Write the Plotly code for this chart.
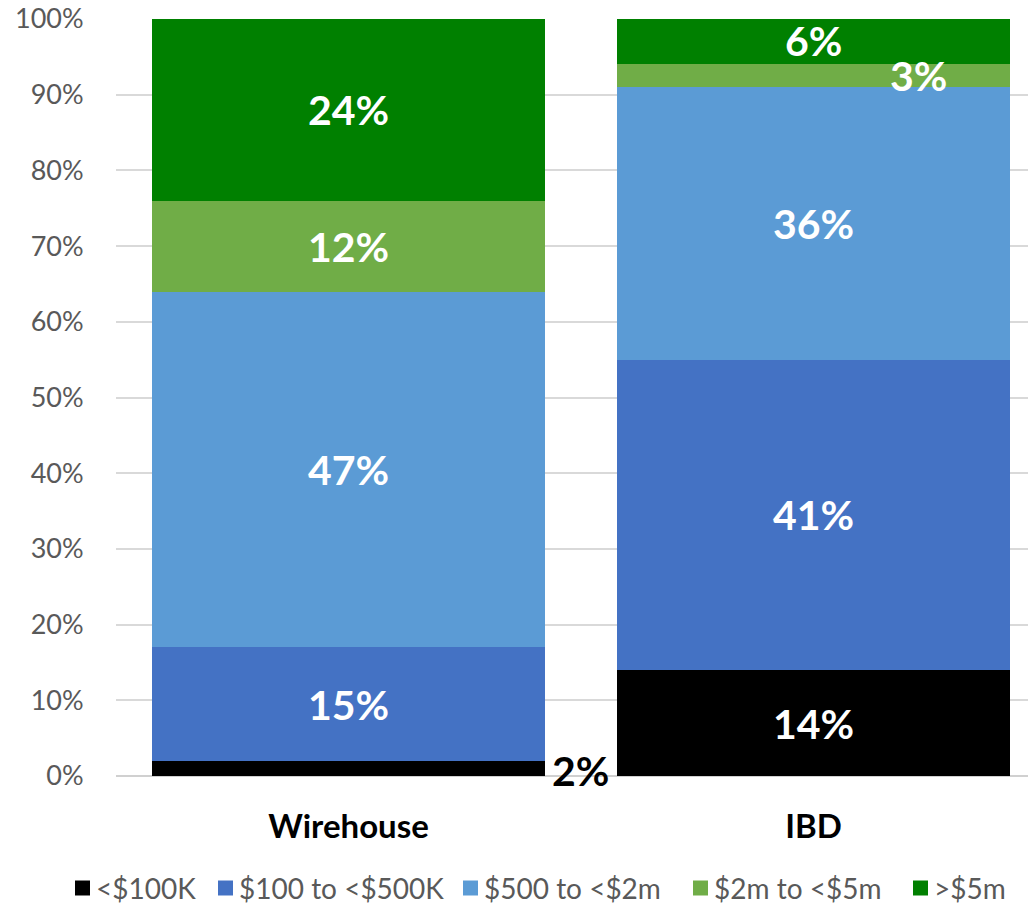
import plotly.graph_objects as go

channels = ["Wirehouse", "IBD"]
bands = ["<$100K", "$100 to <$500K", "$500 to <$2m", "$2m to <$5m", ">$5m"]
wirehouse = [2, 15, 47, 12, 24]
ibd = [14, 41, 36, 3, 6]
colors = ["#000000", "#4472C4", "#5B9BD5", "#70AD47", "#008000"]
tick_vals = [0, 10, 20, 30, 40, 50, 60, 70, 80, 90, 100]
tick_text = [f"{v}%" for v in tick_vals]

FONT = "Lato, 'Open Sans', sans-serif"
W, H = 1028, 905
M_L, M_R, M_T, M_B = 116, 0, 19, 129
PLOT_W, PLOT_H = W - M_L - M_R, H - M_T - M_B

xpos = [0, 1]
series = [wirehouse, ibd]


def px_to_paper_x(px):
    return (px - M_L) / PLOT_W


def px_to_paper_y(py):
    return (H - M_B - py) / PLOT_H


fig = go.Figure()
for i, band in enumerate(bands):
    fig.add_trace(go.Bar(
        x=xpos,
        y=[s[i] for s in series],
        name=band,
        marker=dict(color=colors[i], line=dict(width=0)),
        width=0.845,
        hoverinfo="skip",
        showlegend=False,
    ))

# Segment labels centred on each stack piece; small pieces get nudged aside
annotations = []
for ci, s in enumerate(series):
    base = 0
    for i, v in enumerate(s):
        mid = base + v / 2
        xshift, yshift, color = 0, 0, "white"
        if ci == 0 and i == 0:
            xshift, yshift, color = 232, -2, "black"
        if ci == 1 and i == 3:
            xshift = 105
        if ci == 1 and i == 4:
            yshift = 1
        annotations.append(dict(
            x=xpos[ci], y=mid, text=f"<b>{v}%</b>", showarrow=False,
            xshift=xshift, yshift=yshift,
            font=dict(family=FONT, size=41, color=color),
        ))
        base += v

# Single-row legend below the axis: a coloured square followed by its label
legend_left_px = [75, 218, 463, 693, 913]
legend_mid_py = 888
shapes = []
for band, color, lx in zip(bands, colors, legend_left_px):
    shapes.append(dict(
        type="rect", xref="paper", yref="paper",
        xsizemode="pixel", ysizemode="pixel",
        xanchor=px_to_paper_x(lx), yanchor=px_to_paper_y(legend_mid_py),
        x0=0, x1=15, y0=-7.5, y1=7.5,
        fillcolor=color, line=dict(width=0),
    ))
    annotations.append(dict(
        xref="paper", yref="paper",
        x=px_to_paper_x(lx + 19), y=px_to_paper_y(legend_mid_py),
        xanchor="left", yanchor="middle", showarrow=False,
        text=band, font=dict(family=FONT, size=28, color="#595959"),
    ))

fig.update_layout(
    width=W, height=H,
    margin=dict(l=M_L, r=M_R, t=M_T, b=M_B, autoexpand=False),
    plot_bgcolor="white", paper_bgcolor="white",
    barmode="stack", bargap=0.155,
    font=dict(family=FONT),
    annotations=annotations,
    shapes=shapes,
    showlegend=False,
    xaxis=dict(
        range=[-0.5, 1.461],
        tickvals=xpos,
        ticktext=[f"<b>{c}</b>" for c in channels],
        tickfont=dict(family=FONT, size=33, color="black"),
        showgrid=False, zeroline=False, showline=False,
        ticks="outside", ticklen=21, tickcolor="white",
        fixedrange=True,
    ),
    yaxis=dict(
        range=[0, 100],
        tickvals=tick_vals, ticktext=tick_text,
        tickfont=dict(family=FONT, size=27, color="#595959"),
        showgrid=True, gridcolor="#d9d9d9", gridwidth=2,
        zeroline=True, zerolinecolor="#d0d0d0", zerolinewidth=2,
        showline=False, ticks="outside", ticklen=26, tickcolor="white",
        fixedrange=True,
    ),
)

fig.write_html("out.html")
